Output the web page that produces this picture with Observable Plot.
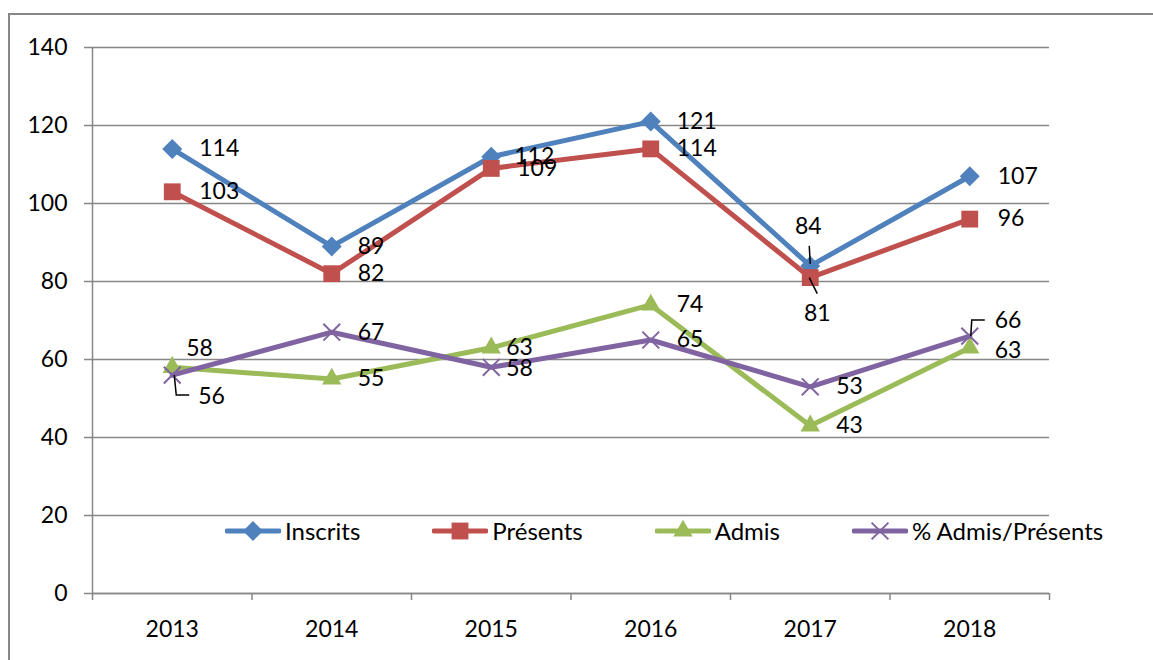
<!DOCTYPE html>
<html>
<head>
<meta charset="utf-8">
<script src="https://cdn.jsdelivr.net/npm/d3@7"></script>
<script src="https://cdn.jsdelivr.net/npm/@observablehq/plot@0.6"></script>
<style>
  html, body { margin: 0; padding: 0; background: #fff; overflow: hidden; }
  #wrap { position: relative; width: 1153px; height: 660px; overflow: hidden; font-family: Lato, "Liberation Sans", sans-serif; }
  #border { position: absolute; left: 0; top: 0; pointer-events: none; }
  #chart { position: absolute; left: 0; top: 0; }
  #legend { position: absolute; left: 225px; top: 516px; display: flex; align-items: center; font-size: 24px; color: #000; white-space: nowrap; }
  .item { display: flex; align-items: center; margin-right: 72px; flex: none; }
  .item:last-child { margin-right: 0; }
  .item svg { display: block; margin-right: 4px; }
</style>
</head>
<body>
<div id="wrap">
  <div id="chart"></div>
  <div id="legend"></div>
  <svg id="border" width="1153" height="660"><path d="M9,660V14H1153" fill="none" stroke="#878787" stroke-width="2"/></svg>
</div>
<script>
// ---- data ----
const years = [2013, 2014, 2015, 2016, 2017, 2018];
const seriesNames = ["Inscrits", "Présents", "Admis", "% Admis/Présents"];
const inscrits = [114, 89, 112, 121, 84, 107];
const presents = [103, 82, 109, 114, 81, 96];
const admis = [58, 55, 63, 74, 43, 63];
const pctAdmisPresents = [56, 67, 58, 65, 53, 66];
const yTicks = [0, 20, 40, 60, 80, 100, 120, 140];

const seriesValues = [inscrits, presents, admis, pctAdmisPresents];
const colors = ["#4F81BD", "#C0504D", "#9BBB59", "#8064A2"];

const rows = seriesNames.flatMap((s, k) =>
  years.map((year, i) => ({series: s, year, value: seriesValues[k][i]})));

// ---- styling ----
const grey = "#878787";
const fontSize = 23;
const markerStyle = {
  "Inscrits": {symbol: "diamond2", r: 9, fill: colors[0]},
  "Présents": {symbol: "square", r: 9.5, fill: colors[1]},
  "Admis": {symbol: "triangle", r: 7.2, fill: colors[2]},
  "% Admis/Présents": {symbol: "times", r: 7.7, stroke: colors[3], strokeWidth: 2, fill: "none"}
};

// label placement (pixels relative to the point)
const defaultLabel = {dx: 26, dy: 0, anchor: "start"};
const labelOverrides = {
  "Inscrits|2013": {dx: 27},
  "Présents|2013": {dx: 27},
  "Inscrits|2015": {dx: 23},
  "Admis|2013": {dx: 14, dy: -19},
  "Admis|2015": {dx: 15},
  "% Admis/Présents|2015": {dx: 15, dy: 1},
  "Inscrits|2017": {dx: -2, dy: -39, anchor: "middle"},
  "Présents|2017": {dx: 7, dy: 36, anchor: "middle"},
  "% Admis/Présents|2013": {dx: 26, dy: 22},
  "% Admis/Présents|2018": {dx: 25, dy: -15},
  "Admis|2018": {dx: 25, dy: 3},
  "Inscrits|2018": {dx: 28},
  "Présents|2018": {dx: 28}
};
const leaderPaths = {
  "Inscrits|2017": [[-1, -20], [0, -2]],
  "Présents|2017": [[-1, 0], [7, 16]],
  "% Admis/Présents|2018": [[1, 0], [2, -16], [15, -16]],
  "% Admis/Présents|2013": [[2, 0], [4, 20], [17, 20]]
};
const pathSymbol = (pts) => ({
  draw(context) {
    context.moveTo(pts[0][0], pts[0][1]);
    for (const p of pts.slice(1)) context.lineTo(p[0], p[1]);
  }
});

const boundaries = years.map(y => y - 0.5).concat([years[years.length - 1] + 0.5]);

const marks = [
  Plot.gridY(yTicks, {stroke: grey, strokeOpacity: 1, strokeWidth: 1.5}),
  Plot.ruleX([boundaries[0]], {stroke: grey, strokeWidth: 1.5}),
  Plot.ruleY([0], {stroke: grey, strokeWidth: 1.5}),
  Plot.axisY({ticks: yTicks, tickSize: 8, tickPadding: 17, stroke: grey, strokeWidth: 1.5, fill: "black", label: null, fontSize}),
  Plot.axisX({ticks: boundaries, tickSize: 7, tickFormat: () => "", stroke: grey, strokeWidth: 1.5, label: null}),
  Plot.axisX({ticks: years, tickSize: 0, tickPadding: 27, tickFormat: d => String(d), fill: "black", label: null, fontSize})
];

for (const s of seriesNames) {
  const data = rows.filter(r => r.series === s);
  const color = colors[seriesNames.indexOf(s)];
  marks.push(Plot.line(data, {x: "year", y: "value", stroke: color, strokeWidth: 5, strokeLinejoin: "round"}));
  const m = markerStyle[s];
  marks.push(Plot.dot(data, {x: "year", y: "value", symbol: m.symbol, r: m.r, fill: m.fill, stroke: m.stroke || "none", strokeWidth: m.strokeWidth || 0}));
}

for (const r of rows) {
  const key = r.series + "|" + r.year;
  if (leaderPaths[key]) {
    marks.push(Plot.dot([r], {x: "year", y: "value", symbol: pathSymbol(leaderPaths[key]), r: 5, stroke: "black", strokeWidth: 1.5, fill: "none"}));
  }
}
for (const r of rows) {
  const key = r.series + "|" + r.year;
  const p = Object.assign({}, defaultLabel, labelOverrides[key] || {});
  marks.push(Plot.text([r], {x: "year", y: "value", text: d => String(d.value), dx: p.dx, dy: p.dy, textAnchor: p.anchor, fill: "black", fontSize}));
}

const chart = Plot.plot({
  width: 1153,
  height: 660,
  marginLeft: 92,
  marginRight: 104,
  marginTop: 47,
  marginBottom: 67,
  style: {fontFamily: 'Lato, "Liberation Sans", sans-serif', fontSize: fontSize + "px", background: "transparent", overflow: "visible"},
  x: {type: "linear", domain: [boundaries[0], boundaries[boundaries.length - 1]]},
  y: {domain: [yTicks[0], yTicks[yTicks.length - 1]]},
  marks
});
document.getElementById("chart").appendChild(chart);

// ---- legend ----
const legend = document.getElementById("legend");
seriesNames.forEach((s, k) => {
  const item = document.createElement("div");
  item.className = "item";
  const m = markerStyle[s];
  const svg = d3.create("svg").attr("width", 56).attr("height", 24);
  svg.append("line").attr("x1", 2).attr("x2", 54).attr("y1", 12).attr("y2", 12)
    .attr("stroke", colors[k]).attr("stroke-width", 5).attr("stroke-linecap", "round");
  const symType = {diamond2: d3.symbolDiamond2, square: d3.symbolSquare, triangle: d3.symbolTriangle, times: d3.symbolTimes}[m.symbol];
  svg.append("path").attr("transform", "translate(28,12)")
    .attr("d", d3.symbol(symType, Math.PI * m.r * m.r)())
    .attr("fill", m.fill === "none" ? "none" : m.fill)
    .attr("stroke", m.stroke || "none").attr("stroke-width", m.strokeWidth || 0);
  item.appendChild(svg.node());
  const span = document.createElement("span");
  span.textContent = s;
  item.appendChild(span);
  legend.appendChild(item);
});
</script>
</body>
</html>
